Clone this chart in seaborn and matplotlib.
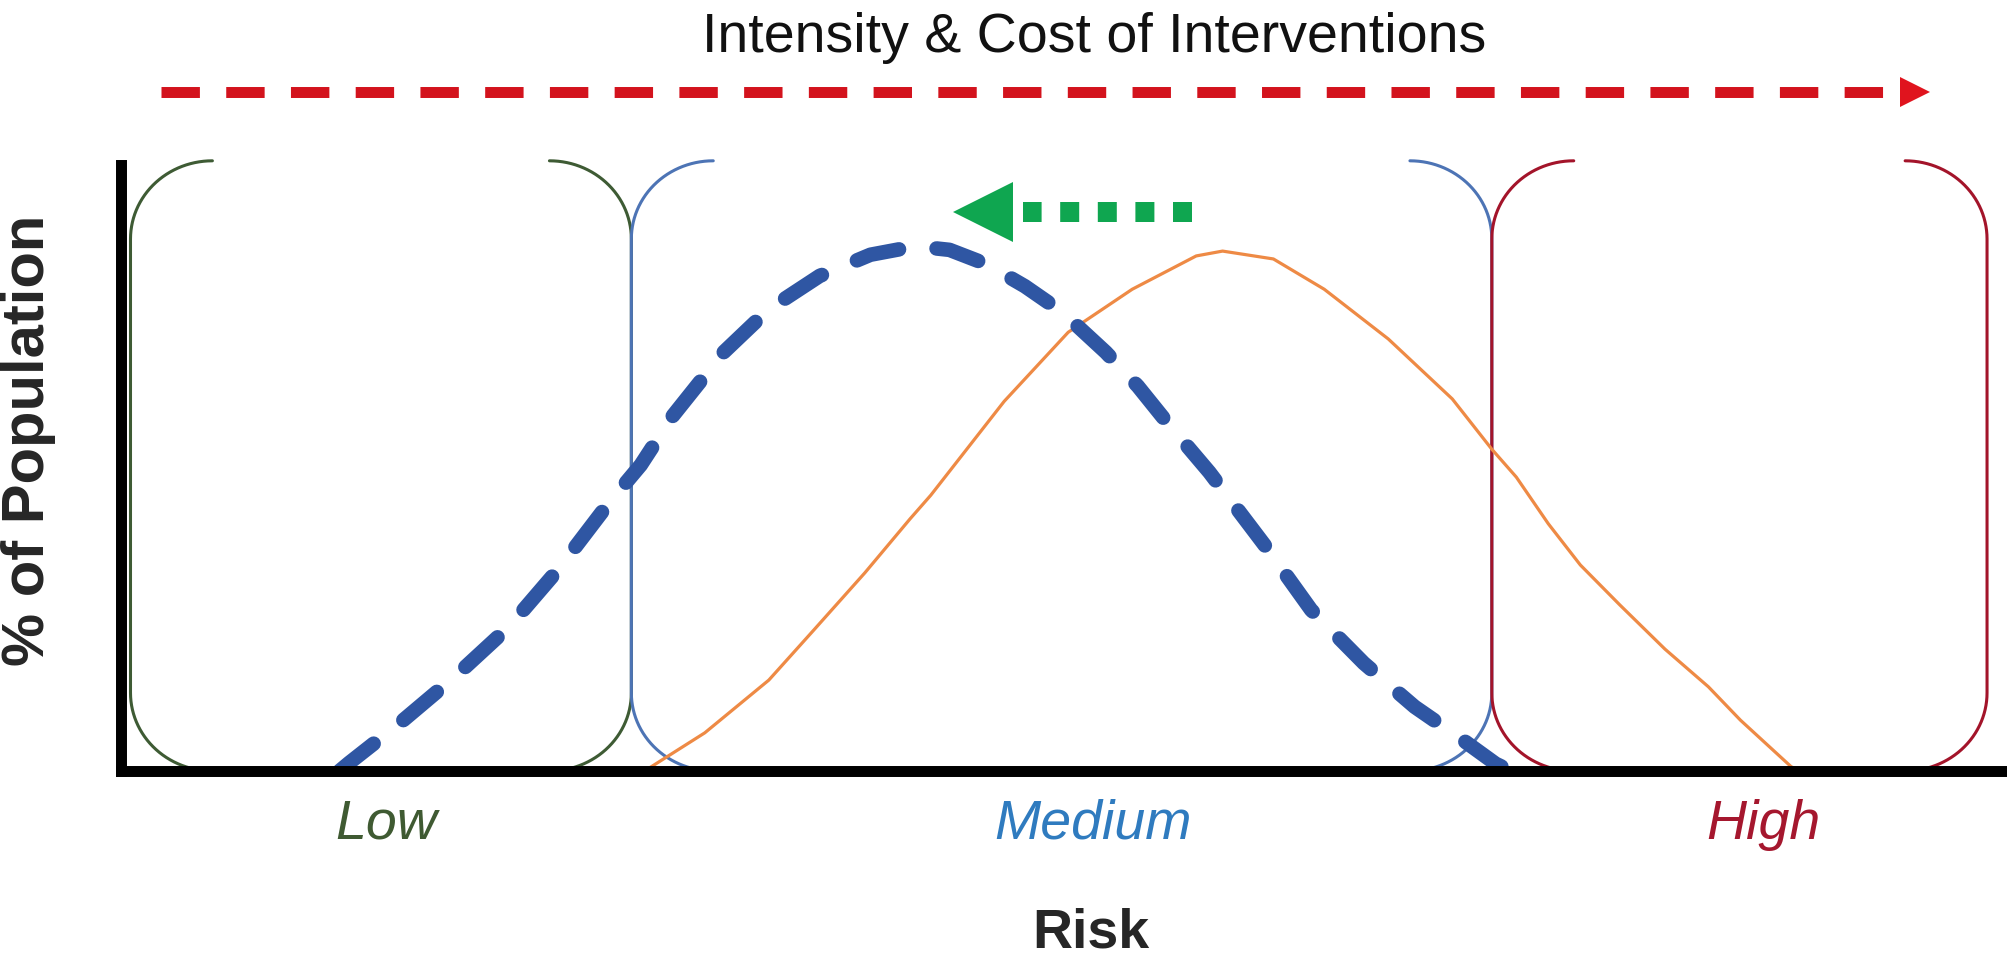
import numpy as np
import matplotlib
matplotlib.use('Agg')
import matplotlib.pyplot as plt
import seaborn as sns

# --- Values (x: risk 0-100, y: % of population 0-100) ---
# current population (orange solid curve)
baseline_risk = [27.8, 31.0, 34.4, 36.8, 39.5, 41.9, 43.0, 46.9, 50.3, 53.7, 57.1, 58.5,
                 61.2, 63.9, 67.3, 70.7, 72.8, 74.1, 75.8, 77.5, 79.6, 82.0, 84.3, 86.0,
                 88.7, 89.2]
baseline_pop = [0, 6.3, 15.0, 23.3, 32.7, 41.6, 45.5, 61.0, 72.4, 79.5, 85.0, 85.8,
                84.5, 79.5, 71.3, 61.4, 53.1, 48.5, 40.8, 34.0, 27.4, 20.1, 13.9, 8.4,
                0.7, 0]

# population after the shift toward lower risk (blue dashed curve)
shifted_risk = [11.6, 12.1, 14.8, 17.7, 20.6, 23.2, 25.9, 27.6, 29.3, 32.0, 34.4, 37.1,
                39.8, 42.2, 44.0, 46.0, 48.0, 50.0, 52.3, 54.0, 55.4, 57.8, 60.8, 63.2,
                66.0, 68.7, 71.4, 73.0, 73.8]
shifted_pop = [0, 1.3, 7.9, 15.5, 23.8, 33.2, 44.2, 50.5, 58.6, 69.1, 76.2, 81.7,
               85.2, 86.6, 86.0, 83.6, 80.0, 75.7, 69.1, 63.5, 58.1, 49.3, 37.0, 26.6,
               17.8, 10.6, 4.8, 1.2, 0]

# risk bands and their labels
risk_levels = ['Low', 'Medium', 'High']
band_edges = [0.5, 27.1, 72.8, 99.1]
label_x = [14.1, 51.6, 87.2]
band_colors = ['#3E5B34', '#4D74B5', '#A3142A']
label_colors = ['#3F5A32', '#2F7BBF', '#A5172E']

# arrows: intensity/cost (red, to the right) and population shift (green, to the left)
intensity_x = [2.1, 94.6]
intensity_y = 112.0
intensity_head_x = 95.3
shift_x = [56.9, 47.9]
shift_y = 92.2
shift_head_x = 45.8

# --- Figure ---
sns.set_theme(style='white')
plt.rcParams['font.family'] = ['Liberation Sans', 'DejaVu Sans']

fig = plt.figure(figsize=(20.08, 9.62), dpi=100)
ax = fig.add_axes([0.0603, 0.1975, 0.9377, 0.6299])
ax.set_xlim(0, 100)
ax.set_ylim(0, 100)

# bracket shape: rounded parenthesis spanning the band height
arc_w, arc_h, top = 4.35, 12.9, 100.7


def draw_bracket(x, side, color):
    t1 = np.linspace(np.pi / 2, np.pi, 30)
    t2 = np.linspace(np.pi, 1.5 * np.pi, 30)
    cx = x + side * arc_w
    xs = np.concatenate([cx + side * arc_w * np.cos(t1), cx + side * arc_w * np.cos(t2)])
    ys = np.concatenate([top - arc_h + arc_h * np.sin(t1), arc_h + arc_h * np.sin(t2)])
    ax.plot(xs, ys, color=color, lw=2.2, zorder=2, clip_on=False,
            solid_capstyle='round')


for i, level in enumerate(risk_levels):
    draw_bracket(band_edges[i], +1, band_colors[i])
    draw_bracket(band_edges[i + 1], -1, band_colors[i])
    ax.text(label_x[i], -11.0, level, ha='center', va='baseline', style='italic',
            fontsize=40, color=label_colors[i])

# curves
sns.lineplot(x=baseline_risk, y=baseline_pop, ax=ax, color='#EE8A45', lw=2.3,
             sort=False, estimator=None, zorder=3)
sns.lineplot(x=shifted_risk, y=shifted_pop, ax=ax, color='#2F56A3', lw=10.5,
             sort=False, estimator=None, linestyle=(0, (3.0, 2.6)),
             dash_capstyle='round', solid_joinstyle='round', zorder=4)

# red dashed arrow on top
ax.plot(intensity_x, [intensity_y] * 2, color='#D3131D', lw=7.9,
        linestyle=(0, (3.5, 2.4)), dash_capstyle='butt', clip_on=False)
ax.plot([intensity_head_x], [intensity_y], marker='>', ms=21.6, color='#E0141E',
        mew=0, clip_on=False)
ax.text(51.7, 118.8, 'Intensity & Cost of Interventions', ha='center',
        va='baseline', fontsize=40, color='#111111')

# green dotted arrow (shift to lower risk)
ax.plot(shift_x, [shift_y] * 2, color='#0FA650', lw=14.4,
        linestyle=(0, (0.95, 0.93)), dash_capstyle='butt', clip_on=False)
ax.plot([shift_head_x], [shift_y], marker='<', ms=43, color='#0FA650', mew=0,
        clip_on=False)

# axes
sns.despine(ax=ax)
for s in ['left', 'bottom']:
    ax.spines[s].set_linewidth(7.9)
    ax.spines[s].set_color('black')
    ax.spines[s].set_zorder(5)
ax.set_xticks([])
ax.set_yticks([])
ax.set_xlabel('')
ax.set_ylabel('')

ax.text(51.5, -29.0, 'Risk', ha='center', va='baseline', fontsize=40,
        fontweight='bold')
ax.text(-4.1, 54.8, '% of Population', rotation=90, rotation_mode='anchor',
        ha='center', va='baseline', fontsize=43, fontweight='bold')

fig.savefig('out.png', dpi=100)
